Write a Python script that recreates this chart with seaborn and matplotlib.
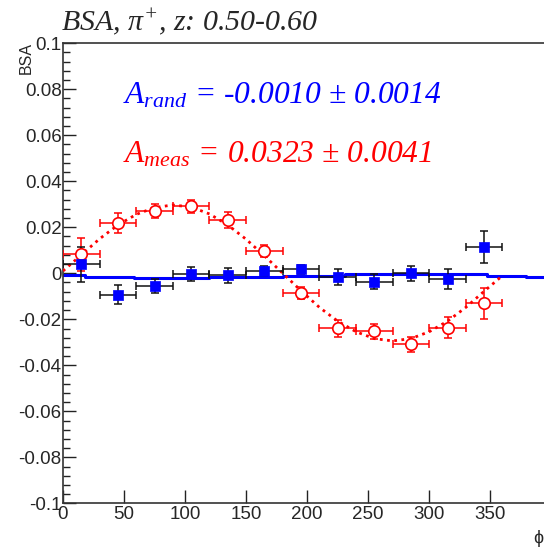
import matplotlib
matplotlib.use("Agg")
import matplotlib.pyplot as plt
import seaborn as sns
import pandas as pd
import numpy as np
from matplotlib.ticker import AutoMinorLocator, FuncFormatter

# bin centres in phi (deg) and half bin width
phi = [15, 45, 75, 105, 135, 165, 195, 225, 255, 285, 315, 345]
phi_half = [15] * 12

# randomised helicity asymmetry (blue)
rand_vals = [0.0039, -0.0093, -0.0054, -0.0004, -0.0009, 0.0010,
             0.0017, -0.0017, -0.0036, 0.0000, -0.0026, 0.0114]
rand_errs = [0.0075, 0.0042, 0.0030, 0.0031, 0.0032, 0.0022,
             0.0020, 0.0034, 0.0031, 0.0032, 0.0044, 0.0070]

# measured asymmetry (red)
meas_vals = [0.0083, 0.0219, 0.0271, 0.0291, 0.0231, 0.0096,
             -0.0086, -0.0239, -0.0253, -0.0309, -0.0237, -0.0130]
meas_errs = [0.0071, 0.0044, 0.0030, 0.0028, 0.0036, 0.0025,
             0.0026, 0.0036, 0.0034, 0.0032, 0.0046, 0.0068]

# fit curves
fit_phi = [0, 15, 30, 45, 60, 75, 90, 105, 120, 135, 150, 165, 180,
           195, 210, 225, 240, 255, 270, 285, 300, 315, 330, 345, 360]
fit_meas = [0.0010, 0.0080, 0.0150, 0.0210, 0.0256, 0.0286, 0.0297, 0.0288,
            0.0258, 0.0210, 0.0148, 0.0076, 0.0000, -0.0076, -0.0148, -0.0208,
            -0.0254, -0.0284, -0.0294, -0.0284, -0.0254, -0.0208, -0.0148,
            -0.0078, -0.0010]
rand_edges = [0, 18, 58, 120, 180, 231, 347, 379, 394]
rand_level = [-0.0009, -0.0015, -0.0019, -0.0015, -0.0010, -0.0002,
              -0.0011, -0.0015, -0.0015]

sns.set_style("ticks")
plt.rcParams["font.family"] = ["Liberation Sans", "DejaVu Sans"]
plt.rcParams["mathtext.fontset"] = "custom"
plt.rcParams["mathtext.rm"] = "Liberation Serif:italic"
plt.rcParams["mathtext.it"] = "Liberation Serif:italic"
plt.rcParams["mathtext.bf"] = "Liberation Serif:italic"
plt.rcParams["axes.unicode_minus"] = False

df_rand = pd.DataFrame({"phi": phi, "val": rand_vals, "err": rand_errs, "xerr": phi_half})
df_meas = pd.DataFrame({"phi": phi, "val": meas_vals, "err": meas_errs, "xerr": phi_half})
df_fit = pd.DataFrame({"phi": fit_phi, "val": fit_meas})
df_step = pd.DataFrame({"phi": rand_edges, "val": rand_level})

fig = plt.figure(figsize=(5.44, 5.48), dpi=100)
ax = fig.add_axes([63 / 544, 44.7 / 548, 481 / 544, 460 / 548])

# fits
sns.lineplot(data=df_step, x="phi", y="val", ax=ax, color="#0000ff", lw=2.2,
             drawstyle="steps-post", estimator=None, sort=False, zorder=2)
sns.lineplot(data=df_fit, x="phi", y="val", ax=ax, color="#ff0000", lw=2.0,
             linestyle=(0, (1, 1.6)), estimator=None, sort=False, zorder=3)

# error bars
ax.errorbar(df_meas.phi, df_meas.val, yerr=df_meas.err, xerr=df_meas.xerr,
            fmt="none", ecolor="#ff0000", elinewidth=1.1, capsize=3, capthick=1.1, zorder=4)
ax.errorbar(df_rand.phi, df_rand.val, yerr=df_rand.err, xerr=df_rand.xerr,
            fmt="none", ecolor="#111111", elinewidth=1.1, capsize=3, capthick=1.1, zorder=5)

# markers
sns.scatterplot(data=df_meas, x="phi", y="val", ax=ax, marker="o", s=68,
                facecolor="white", edgecolor="#ff0000", linewidth=1.2, zorder=6)
sns.scatterplot(data=df_rand, x="phi", y="val", ax=ax, marker="s", s=56,
                color="#0000ff", edgecolor="#0000ff", linewidth=0.5, zorder=7)

ax.set_xlim(0, 394)
ax.set_ylim(-0.1, 0.1)
ax.set_xticks([0, 50, 100, 150, 200, 250, 300, 350])
ax.set_yticks([-0.1, -0.08, -0.06, -0.04, -0.02, 0, 0.02, 0.04, 0.06, 0.08, 0.1])
ax.yaxis.set_minor_locator(AutoMinorLocator(5))
ax.yaxis.set_major_formatter(FuncFormatter(lambda v, p: "%g" % round(v, 4)))
ax.tick_params(axis="both", which="major", direction="in", length=9.5, width=1.0,
               labelsize=13.5, color="#222222")
ax.tick_params(axis="y", which="major", pad=1)
ax.tick_params(axis="x", which="major", pad=2)
ax.tick_params(axis="y", which="minor", direction="in", length=5, width=1.0, color="#222222")
ax.set_xlabel("")
ax.set_ylabel("")
for side in ["left", "bottom", "top"]:
    ax.spines[side].set_linewidth(1.2)
    ax.spines[side].set_color("#333333")
ax.spines["right"].set_visible(False)

# labels and annotations
serif = dict(family="Liberation Serif", style="italic")
fig.text(61 / 544, 1 - 31 / 548, r"BSA, $\pi^{+}$, z: 0.50-0.60", fontsize=21.5,
         ha="left", va="baseline", **serif)
fig.text(26 / 544, 1 - 42 / 548, "BSA", rotation=90, fontsize=11.5,
         ha="center", va="top")
fig.text(533 / 544, 1 - 547 / 548, "\u03d5", fontsize=13, ha="left", va="bottom")
ax.text(49, 0.0737, r"$A_{rand}$ = -0.0010 ± 0.0014", color="#0000ff",
        fontsize=22.7, ha="left", va="baseline", **serif)
ax.text(49, 0.048, r"$A_{meas}$ = 0.0323 ± 0.0041", color="#ff0000",
        fontsize=22.7, ha="left", va="baseline", **serif)

fig.savefig("out.png", dpi=100)
